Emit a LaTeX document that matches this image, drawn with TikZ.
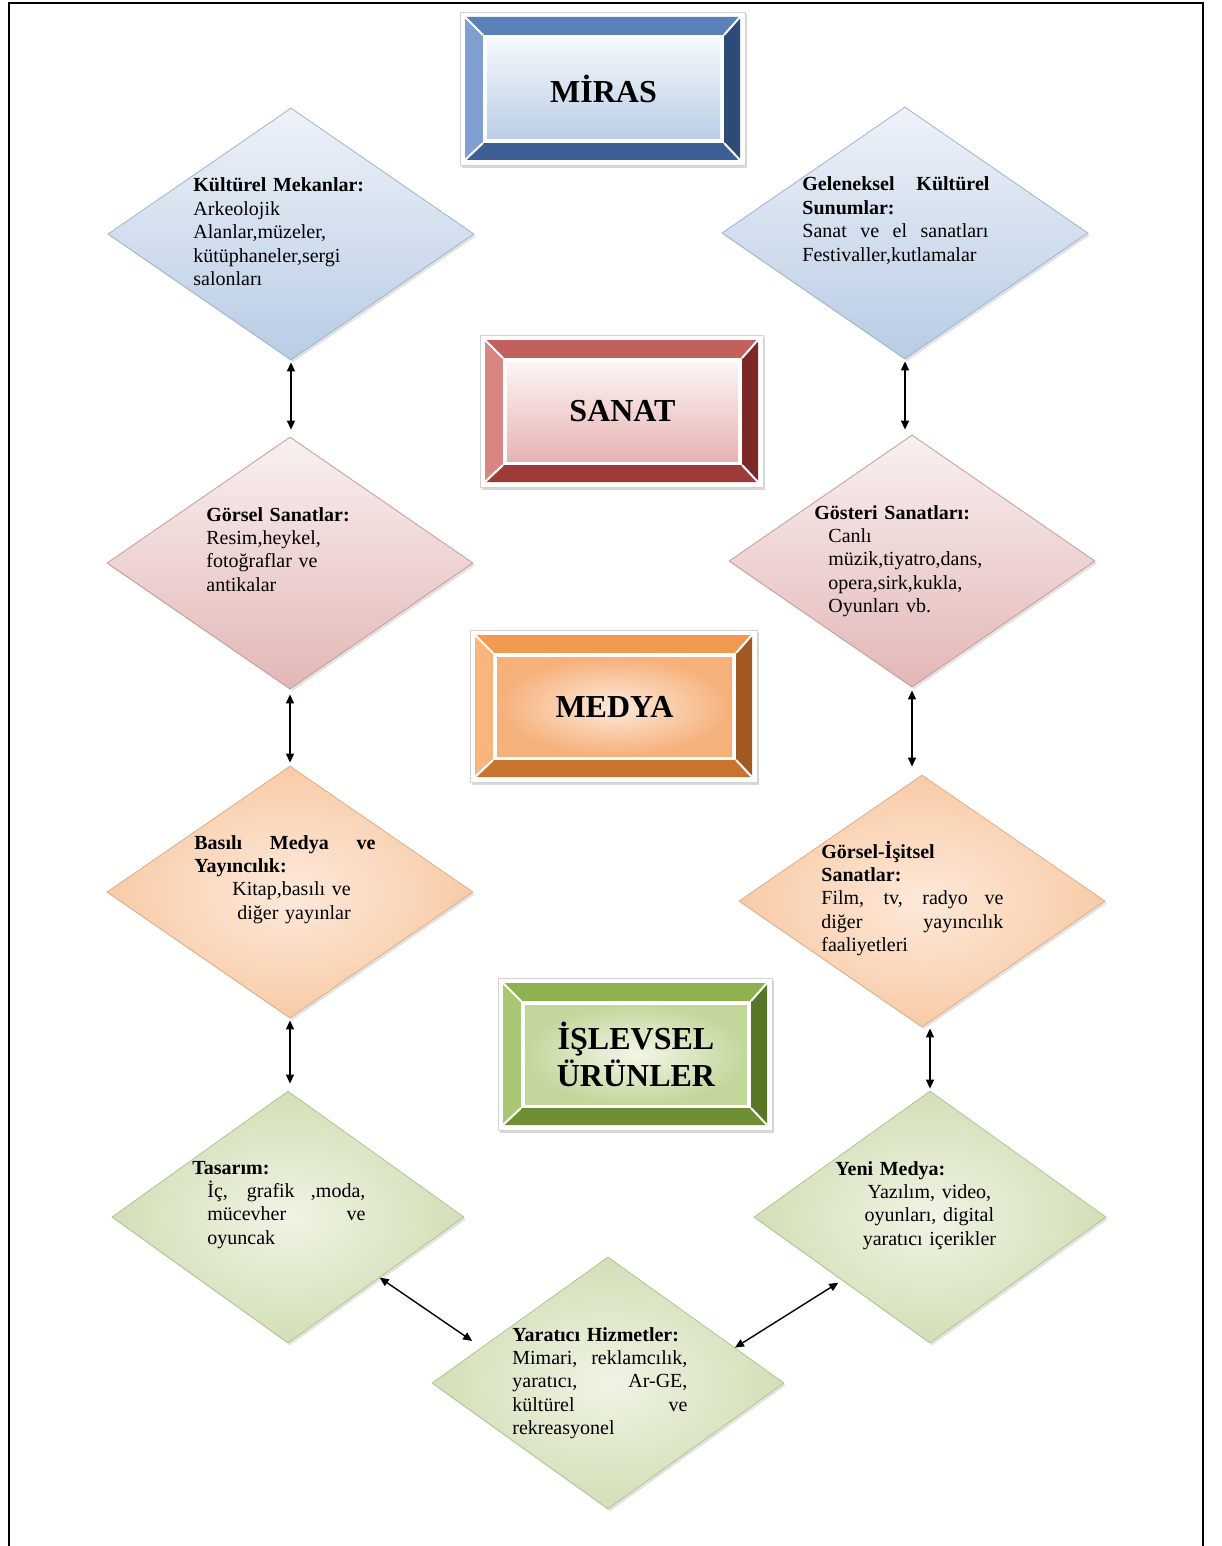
\documentclass[tikz,border=0pt]{standalone}
\usepackage{fontspec}
\setmainfont{Liberation Serif}
\usetikzlibrary{shapes.geometric,arrows.meta,shadows,calc}

\definecolor{blutop}{HTML}{5B80BA}
\definecolor{blulft}{HTML}{7E9FCF}
\definecolor{blurgt}{HTML}{2E4B78}
\definecolor{blubot}{HTML}{3E5F94}
\definecolor{bluft}{HTML}{F5F8FC}
\definecolor{blufb}{HTML}{BACDE7}
\definecolor{redtop}{HTML}{C2605D}
\definecolor{redlft}{HTML}{D88583}
\definecolor{redrgt}{HTML}{7C2826}
\definecolor{redbot}{HTML}{9E3A37}
\definecolor{redft}{HTML}{FCF4F4}
\definecolor{redfb}{HTML}{E8B3B2}
\definecolor{orgtop}{HTML}{F39A52}
\definecolor{orglft}{HTML}{F8B67E}
\definecolor{orgrgt}{HTML}{A35A22}
\definecolor{orgbot}{HTML}{C8742F}
\definecolor{orgft}{HTML}{FDEADB}
\definecolor{orgfb}{HTML}{F6B07A}
\definecolor{grntop}{HTML}{8FB14F}
\definecolor{grnlft}{HTML}{A9C675}
\definecolor{grnrgt}{HTML}{587628}
\definecolor{grnbot}{HTML}{6E8F35}
\definecolor{grnft}{HTML}{F2F6E8}
\definecolor{grnfb}{HTML}{C3D79C}
% diamond colours
\definecolor{dbluA}{HTML}{EEF2F9}
\definecolor{dbluB}{HTML}{B8CCE4}
\definecolor{dbluD}{HTML}{9FB3CF}
\definecolor{dredA}{HTML}{F9F0F0}
\definecolor{dredB}{HTML}{E3B7B6}
\definecolor{dredD}{HTML}{C49C9B}
\definecolor{dorgA}{HTML}{FDE9DA}
\definecolor{dorgB}{HTML}{F9CBA7}
\definecolor{dorgD}{HTML}{DEAE88}
\definecolor{dgrnA}{HTML}{EFF4E4}
\definecolor{dgrnB}{HTML}{D2DFB7}
\definecolor{dgrnD}{HTML}{B3C48F}

% justified line of given width
\newcommand\jst[2]{\makebox[#1][s]{\spaceskip=0pt\xspaceskip=0pt #2}}

\newcommand\bevbox[8]{%
  \draw[draw=gray!35, fill=white, bshadow] (#2,#3) rectangle (#4,#5);
  \coordinate (#1-o1) at ({#2+5},{#3+5});
  \coordinate (#1-o2) at ({#4-5},{#3+5});
  \coordinate (#1-o3) at ({#4-5},{#5-5});
  \coordinate (#1-o4) at ({#2+5},{#5-5});
  \coordinate (#1-i1) at ({#2+23},{#3+23});
  \coordinate (#1-i2) at ({#4-21},{#3+23});
  \coordinate (#1-i3) at ({#4-21},{#5-22});
  \coordinate (#1-i4) at ({#2+23},{#5-22});
  \fill[#6top] (#1-o1) -- (#1-o2) -- (#1-i2) -- (#1-i1) -- cycle;
  \fill[#6rgt] (#1-o2) -- (#1-o3) -- (#1-i3) -- (#1-i2) -- cycle;
  \fill[#6bot] (#1-o3) -- (#1-o4) -- (#1-i4) -- (#1-i3) -- cycle;
  \fill[#6lft] (#1-o4) -- (#1-o1) -- (#1-i1) -- (#1-i4) -- cycle;
  \draw[white, line width=1pt] (#1-o1) -- (#1-i1) (#1-o2) -- (#1-i2)
       (#1-o3) -- (#1-i3) (#1-o4) -- (#1-i4);
  \fill[white] (#1-i1) rectangle (#1-i3);
  \path[#7] ($(#1-i1)+(4,4)$) rectangle ($(#1-i3)+(-4,-4)$);
  \node[ttl] (#1) at ($(#1-i1)!0.5!(#1-i3)$) {#8};
}

\tikzset{
  bshadow/.style={drop shadow={opacity=0.3, shadow xshift=1.2pt, shadow yshift=-1.5pt}},
  dia/.style={diamond, inner sep=0pt, minimum width=183pt, minimum height=126pt,
              line width=0.4pt, drop shadow={opacity=0.22, shadow xshift=1pt, shadow yshift=-1.2pt}},
  bdia/.style={dia, draw=dbluD, top color=dbluA, bottom color=dbluB},
  rdia/.style={dia, draw=dredD, top color=dredA, bottom color=dredB},
  odia/.style={dia, draw=dorgD, inner color=dorgA, outer color=dorgB},
  gdia/.style={dia, draw=dgrnD, inner color=dgrnA, outer color=dgrnB, minimum width=176pt},
  ttl/.style={inner sep=0pt, align=center, font=\fontsize{16}{18.5}\selectfont\bfseries},
  dtext/.style={anchor=base west, inner sep=0pt, align=left,
                font=\fontsize{10}{11.7}\selectfont, text width=#1},
  conn/.style={{Triangle[length=4.5pt,width=4pt]}-{Triangle[length=4.5pt,width=4pt]}, line width=0.7pt, black},
}

\begin{document}
\begin{tikzpicture}[x=0.5pt, y=-0.5pt]
\useasboundingbox (0,0) rectangle (1221,1546);
\fill[white] (0,0) rectangle (1221,1546);
% page frame
\draw[line width=1pt] (9,1546) -- (9,3) -- (1203,3) -- (1203,1546);

% header boxes
\bevbox{miras}{460}{12}{745}{165}{blu}{top color=bluft, bottom color=blufb}{MİRAS}
\bevbox{sanat}{480}{335}{763}{487}{red}{top color=redft, bottom color=redfb}{SANAT}
\bevbox{medya}{470}{630}{757}{782}{org}{inner color=orgft, outer color=orgfb}{MEDYA}
\bevbox{islev}{498}{978}{772}{1130}{grn}{inner color=grnft, outer color=grnfb}{İŞLEVSEL\\ÜRÜNLER}

% diamonds
\node[bdia] (km) at (291,234) {};
\node[bdia] (gk) at (905,233) {};
\node[rdia] (gs) at (290,563) {};
\node[rdia] (gos) at (912,561) {};
\node[odia] (bm) at (290,892) {};
\node[odia] (gi) at (922,901) {};
\node[gdia] (ts) at (288,1217) {};
\node[gdia] (ym) at (930,1217) {};
\node[gdia] (yh) at (608,1383) {};

% diamond texts
\node[dtext=92pt] (kmt) at (193,192) {\textbf{Kültürel Mekanlar:}\\Arkeolojik\\Alanlar,müzeler,\\kütüphaneler,sergi\\salonları};
\node[dtext=94pt] (gkt) at (802,191) {\jst{93.5pt}{\textbf{Geleneksel Kültürel}}\\\textbf{Sunumlar:}\\\jst{93pt}{Sanat ve el sanatları}\\Festivaller,kutlamalar};
\node[dtext=90pt] (gst) at (206,521) {\textbf{Görsel Sanatlar:}\\Resim,heykel,\\fotoğraflar ve\\antikalar};
\node[dtext=92pt] (gost) at (814,519) {\textbf{Gösteri Sanatları:}\\\hspace*{7pt}Canlı\\\hspace*{7pt}müzik,tiyatro,dans,\\\hspace*{7pt}opera,sirk,kukla,\\\hspace*{7pt}Oyunları vb.};
\node[dtext=91pt] (bmt) at (194,849) {\jst{90.5pt}{\textbf{Basılı Medya ve}}\\\textbf{Yayıncılık:}\\\hspace*{19pt}Kitap,basılı ve\\\hspace*{21.5pt}diğer yayınlar};
\node[dtext=92pt] (git) at (821,858) {\textbf{Görsel-İşitsel}\\\textbf{Sanatlar:}\\\jst{91pt}{Film, tv, radyo ve}\\\jst{91pt}{diğer yayıncılık}\\faaliyetleri};
\node[dtext=88pt] (tst) at (192,1174) {\textbf{Tasarım:}\\\hspace*{7.5pt}\jst{79pt}{İç, grafik ,moda,}\\\hspace*{7.5pt}\jst{79pt}{mücevher ve}\\\hspace*{7.5pt}oyuncak};
\node[dtext=94pt] (ymt) at (835,1175) {\textbf{Yeni Medya:}\\\makebox[94pt][c]{Yazılım, video,}\\\makebox[94pt][c]{oyunları, digital}\\\makebox[94pt][c]{yaratıcı içerikler}};
\node[dtext=88pt] (yht) at (512,1341) {\textbf{Yaratıcı Hizmetler:}\\\jst{87.5pt}{Mimari, reklamcılık,}\\\jst{87.5pt}{yaratıcı, Ar-GE,}\\\jst{87.5pt}{kültürel ve}\\rekreasyonel};

% connectors
\draw[conn, shorten <=1pt, shorten >=3.5pt] (km.south) -- (km.south |- gs.north);
\draw[conn, shorten <=1pt, shorten >=2.5pt] (gk.south) -- (gk.south |- gos.north);
\draw[conn, shorten <=2.5pt, shorten >=1.5pt] (gs.south) -- (gs.south |- bm.north);
\draw[conn, shorten <=1.5pt, shorten >=4pt] (gos.south) -- (gos.south |- gi.north);
\draw[conn, shorten <=1pt, shorten >=3.5pt] (bm.south) -- (bm.south |- ts.north);
\draw[conn, shorten <=0.5pt, shorten >=1pt] (ym.north |- gi.south) -- (ym.north);
\coordinate (tsa) at ($(ts.east)!0.48!(ts.south)$);
\coordinate (yha) at ($(yh.west)!0.23!(yh.north)+(0,-13)$);
\draw[conn] (tsa) -- (yha);
\coordinate (yhb) at ($(yh.north)!0.72!(yh.east)$);
\coordinate (ymb) at ($(ym.west)!0.48!(ym.south)+(0,5)$);
\draw[conn] (yhb) -- (ymb);
\end{tikzpicture}
\end{document}
